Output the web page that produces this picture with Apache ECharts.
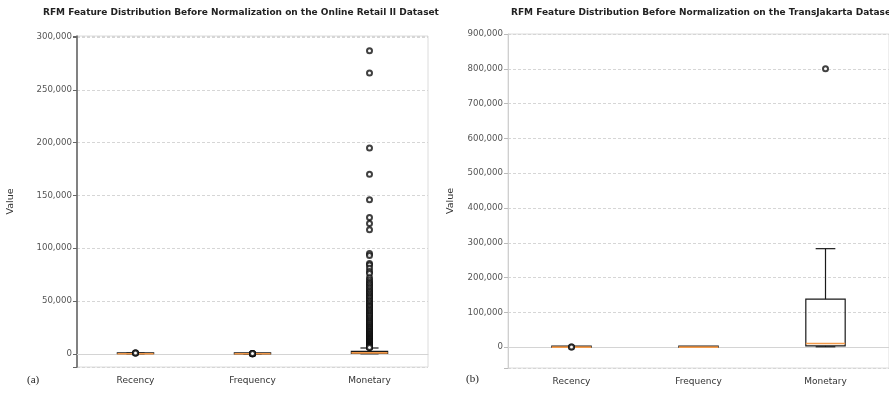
<!DOCTYPE html>
<html>
<head>
<meta charset="utf-8">
<script src="https://cdn.jsdelivr.net/npm/echarts@6/dist/echarts.min.js"></script>
<style>html,body{margin:0;padding:0;background:#fff;}#c{width:889px;height:394px;}</style>
</head>
<body>
<div id="c"></div>
<script>
// ---- data ----
const categories = ['Recency', 'Frequency', 'Monetary'];
const titleA = 'RFM Feature Distribution Before Normalization on the Online Retail II Dataset';
const titleB = 'RFM Feature Distribution Before Normalization on the TransJakarta Dataset';
// [lower whisker, Q1, median, Q3, upper whisker]
const retailStats = [
  [0, 26, 96, 380, 738],
  [1, 1, 3, 7, 16],
  [0, 310, 900, 2300, 5500]
];
const retailRecencyOutliers = [760, 780, 800];
const retailFrequencyOutliers = [20, 35, 60, 120, 210, 400];
const retailMonetaryOutliers = [
  287000, 266000, 195000, 170000, 146000, 129000, 123500, 117500, 95000, 93000,
  85500, 84000, 81000, 78000, 76000, 72000, 69800, 68000, 66500, 65200,
  63500, 62100, 60400, 59000, 57800, 56300, 55000, 53700, 52600, 51000,
  49800, 48400, 47100, 45800, 44700, 43500, 42100, 41000, 39800, 38600,
  37700, 36400, 35500, 34200, 33300, 32100, 31100, 30200, 29100, 28400,
  27300, 26600, 25600, 25000, 24100, 23200, 22600, 21700, 21100, 20300,
  19800, 19000, 18300, 17900, 17100, 16700, 15900, 15500, 14800, 14500,
  13800, 13500, 12900, 12300, 12000, 11400, 11100, 10600, 10300, 9800,
  9500, 9200, 8800, 8400, 8200, 7800, 7600, 7300, 7000, 6800,
  6500, 6300, 6100, 5900
];
const transStats = [
  [0, 2, 5, 9, 18],
  [1, 1, 1, 2, 3],
  [1000, 3500, 10500, 138000, 283000]
];
const transRecencyOutliers = [25, 30];
const transFrequencyOutliers = [];
const transMonetaryOutliers = [800000];
const retailTicks = [0, 50000, 100000, 150000, 200000, 250000, 300000];
const transTicks = [0, 100000, 200000, 300000, 400000, 500000, 600000, 700000, 800000, 900000];

// ---- build ----
const boxColor = '#1a1a1a';
const medianColor = '#f39a4a';

function boxRows(stats) {
  return stats.map((s, i) => [i].concat(s));
}
function outlierRows(lists) {
  const rows = [];
  lists.forEach((l, i) => l.forEach(v => rows.push([i, v])));
  return rows;
}
function renderBox(params, api) {
  const x = api.value(0);
  const lo = api.coord([x, api.value(1)]);
  const q1 = api.coord([x, api.value(2)]);
  const md = api.coord([x, api.value(3)]);
  const q3 = api.coord([x, api.value(4)]);
  const hi = api.coord([x, api.value(5)]);
  const band = api.size([1, 0])[0];
  const bw = band * 0.31;
  const cw = bw / 2;
  const cx = lo[0];
  const st = {stroke: boxColor, lineWidth: 1.2, fill: null};
  const top = Math.min(q3[1], q1[1] - 1);
  return {
    type: 'group',
    children: [
      {type: 'line', shape: {x1: cx, y1: q3[1], x2: cx, y2: hi[1]}, style: st},
      {type: 'line', shape: {x1: cx, y1: q1[1], x2: cx, y2: lo[1]}, style: st},
      {type: 'line', shape: {x1: cx - cw / 2, y1: hi[1], x2: cx + cw / 2, y2: hi[1]}, style: st},
      {type: 'line', shape: {x1: cx - cw / 2, y1: lo[1], x2: cx + cw / 2, y2: lo[1]}, style: st},
      {type: 'rect', shape: {x: cx - bw / 2, y: top, width: bw, height: q1[1] - top}, style: {stroke: boxColor, lineWidth: 1.2, fill: 'rgba(255,255,255,0)'}},
      {type: 'line', shape: {x1: cx - bw / 2, y1: md[1], x2: cx + bw / 2, y2: md[1]}, style: {stroke: medianColor, lineWidth: 1.6}}
    ]
  };
}

function yAxisCfg(idx, min, max, step, ticks, strongAxis, gap) {
  return {
    type: 'value', gridIndex: idx, min: min, max: max,
    minInterval: step, maxInterval: step, splitNumber: ticks.length - 1,
    name: 'Value', nameLocation: 'middle', nameGap: gap,
    nameTextStyle: {fontSize: 9.5, color: '#333', fontFamily: 'DejaVu Sans'},
    axisLine: {show: true, lineStyle: {color: strongAxis ? '#666' : '#cfcfcf', width: strongAxis ? 1.6 : 1}},
    axisTick: {show: true, length: 4, lineStyle: {color: strongAxis ? '#666' : '#bbb'}},
    axisLabel: {
      fontSize: 8.6, color: '#555', fontFamily: 'DejaVu Sans', margin: 5,
      formatter: v => (ticks.indexOf(v) >= 0 ? v.toLocaleString('en-US') : '')
    },
    splitLine: {show: true, lineStyle: {color: '#d6d6d6', type: [3, 2], width: 1}}
  };
}
function xAxisCfg(idx) {
  return {
    type: 'category', gridIndex: idx, data: categories, boundaryGap: true,
    axisLine: {show: true, lineStyle: {color: '#d4d4d4'}},
    axisTick: {show: false},
    axisLabel: {fontSize: 9, color: '#333', fontFamily: 'DejaVu Sans', margin: 9},
    splitLine: {show: false}
  };
}
function outlierSeries(idx, rows) {
  return {
    type: 'scatter', xAxisIndex: idx, yAxisIndex: idx, data: rows,
    symbol: 'emptyCircle', symbolSize: 5, z: 5,
    itemStyle: {color: '#111', borderColor: '#111', borderWidth: 1.3},
    silent: true
  };
}

const option = {
  animation: false,
  backgroundColor: '#fff',
  grid: [
    {left: 77, top: 36, width: 351, height: 331, show: true, borderColor: '#dcdcdc', borderWidth: 1},
    {left: 508, top: 34, width: 388, height: 334, show: true, borderColor: '#dcdcdc', borderWidth: 1}
  ],
  xAxis: [xAxisCfg(0), xAxisCfg(1)],
  yAxis: [
    yAxisCfg(0, -12500, 301000, 50000, retailTicks, true, 61),
    yAxisCfg(1, -60000, 900000, 100000, transTicks, false, 52)
  ],
  graphic: [
    {type: 'text', left: 43, top: 8, style: {text: titleA, font: 'bold 9px "DejaVu Sans"', fill: '#222'}},
    {type: 'text', left: 511, top: 8, style: {text: titleB, font: 'bold 9px "DejaVu Sans"', fill: '#222'}},
    {type: 'text', left: 27, top: 375, style: {text: '(a)', font: '11px "Liberation Serif"', fill: '#222'}},
    {type: 'text', left: 466, top: 374, style: {text: '(b)', font: '11px "Liberation Serif"', fill: '#222'}}
  ],
  series: [
    {type: 'custom', xAxisIndex: 0, yAxisIndex: 0, data: boxRows(retailStats), renderItem: renderBox, encode: {x: 0, y: [1, 2, 3, 4, 5]}, z: 3, silent: true},
    outlierSeries(0, outlierRows([retailRecencyOutliers, retailFrequencyOutliers, retailMonetaryOutliers])),
    {type: 'custom', xAxisIndex: 1, yAxisIndex: 1, data: boxRows(transStats), renderItem: renderBox, encode: {x: 0, y: [1, 2, 3, 4, 5]}, z: 3, silent: true},
    outlierSeries(1, outlierRows([transRecencyOutliers, transFrequencyOutliers, transMonetaryOutliers]))
  ]
};
const chart = echarts.init(document.getElementById('c'), null, {renderer: 'canvas'});
chart.setOption(option);
</script>
</body>
</html>
